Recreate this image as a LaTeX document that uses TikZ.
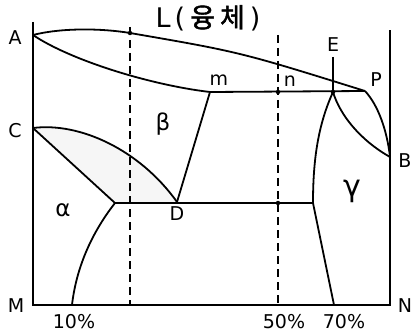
\documentclass[tikz,border=0pt]{standalone}
\usepackage{fontspec}
\setmainfont{DejaVu Sans}
\newfontfamily\krfont[FakeBold=1.5]{Noto Sans CJK KR}
\begin{document}
\begin{tikzpicture}[x=1pt,y=-1pt,line width=1.8pt,
  lbl/.style={font=\fontsize{19}{21}\selectfont,inner sep=0pt},
  glbl/.style={font=\fontsize{23}{25}\selectfont,inner sep=0pt},
  dline/.style={line width=1.5pt,dash pattern=on 8pt off 5pt},
  dotm/.style={fill,circle,inner sep=0pt,minimum size=4.5pt}]
\useasboundingbox (0,0) rectangle (415,334);
\fill[white] (0,0) rectangle (415,334);
% key points
\coordinate (T) at (33,22);
\coordinate (A) at (33,35);
\coordinate (C) at (33,128);
\coordinate (M) at (33,305);
\coordinate (N) at (390,305);
\coordinate (Nt) at (390,30);
\coordinate (B) at (390,157);
\coordinate (P) at (365,91);
\coordinate (E) at (333,92);
\coordinate (Et) at (333,57);
\coordinate (m) at (210,92);
\coordinate (n) at (278,92);
\coordinate (D) at (177,202);
\coordinate (Q) at (115,203);
\coordinate (R) at (313,203);
\coordinate (F) at (72,305);
\coordinate (G) at (334,305);
\coordinate (L1) at (130,33);
\coordinate (d1t) at (130,27);
\coordinate (d1b) at (130,305);
\coordinate (d2t) at (278,35);
\coordinate (d2b) at (278,305);
\coordinate (d2m) at (278,203);
% shaded lens
\fill[gray!7] (C) .. controls (80,122) and (140,150) .. (D) -- (Q) -- cycle;
% axes
\draw (T) -- (M) -- (N) -- (Nt);
% liquidus
\draw (A) .. controls (60,28) and (100,28) .. (L1) .. controls (240,52) .. (P);
% solidus
\draw (A) .. controls (70,60) and (150,85) .. (m);
\draw (m) -- (P);
\draw (m) -- (D);
\draw (Q) -- (R);
% alpha side
\draw (C) .. controls (80,122) and (140,150) .. (D);
\draw (C) -- (Q);
\draw (Q) .. controls (90,235) and (76,270) .. (F);
% gamma side
\draw (Et) -- (E);
\draw (E) .. controls (318,125) and (313,160) .. (R) -- (G);
\draw (E) .. controls (340,115) and (360,140) .. (B);
\draw (P) .. controls (378,105) and (387,130) .. (B);
% dashed composition lines
\draw[dline] (d1t) -- (d1b);
\draw[dline] (d2t) -- (d2b);
\node[dotm] at (L1) {};
\node[dotm] at (n) {};
\node[dotm] at (d2m) {};
\node[dotm] at (E) {};
% labels
\node[inner sep=0pt,font=\fontsize{27}{29}\selectfont] (title) at (208,18) {L\kern4pt(\kern5pt{\krfont\fontsize{27}{29}\selectfont 융\kern5pt체}\kern5pt)};
\node[lbl] (lA) at (15,38) {A};
\node[lbl] (lC) at (15,131) {C};
\node[lbl] (lM) at (16,306) {M};
\node[lbl] (lN) at (405,306) {N};
\node[lbl] (lB) at (405,161) {B};
\node[lbl] (lP) at (376,80) {P};
\node[lbl] (lE) at (333,45) {E};
\node[lbl] (lm) at (219,80) {m};
\node[lbl] (ln) at (290,81) {n};
\node[lbl] (lD) at (177,214) {D};
\node[glbl] (lbeta) at (163,124) {β};
\node[glbl] (lalpha) at (63,210) {α};
\node[inner sep=0pt,font=\fontsize{30}{32}\selectfont] (lgamma) at (352,191) {γ};
\node[lbl] (l10) at (74,322) {10\%};
\node[lbl] (l50) at (284,322) {50\%};
\node[lbl] (l70) at (344,322) {70\%};
\end{tikzpicture}
\end{document}
